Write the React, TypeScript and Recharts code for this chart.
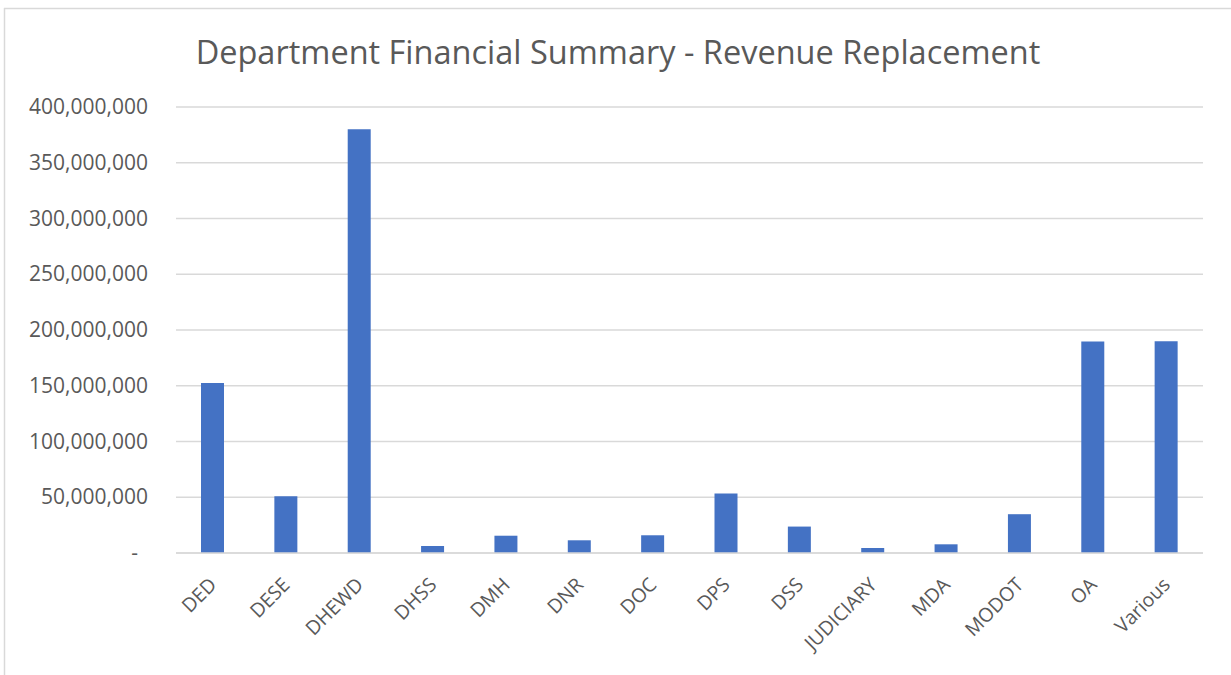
import React from "react";
import { BarChart, Bar, XAxis, YAxis, CartesianGrid } from "recharts";

const departments = ["DED", "DESE", "DHEWD", "DHSS", "DMH", "DNR", "DOC", "DPS", "DSS", "JUDICIARY", "MDA", "MODOT", "OA", "Various"];
const revenueReplacement = [152500000, 50800000, 380000000, 6300000, 15500000, 11400000, 15900000, 53400000, 23700000, 4500000, 7800000, 34800000, 189600000, 190000000];
const yTicks = [0, 50000000, 100000000, 150000000, 200000000, 250000000, 300000000, 350000000, 400000000];
const chartTitle = "Department Financial Summary - Revenue Replacement";

const data = departments.map((d, i) => ({ name: d, value: revenueReplacement[i] }));

const FONT = "'Open Sans', sans-serif";
const TEXT = "#595959";
const GRID = "#d9d9d9";

const YTick = (props: any) => {
  const { x, y, payload } = props;
  const v = payload.value as number;
  if (v === 0) {
    return (
      <text x={x - 30} y={y} dy={7} textAnchor="end" fill={TEXT} fontSize={21} fontFamily={FONT}>
        -
      </text>
    );
  }
  return (
    <text x={x - 20} y={y} dy={7} textAnchor="end" fill={TEXT} fontSize={21} fontFamily={FONT}>
      {v.toLocaleString("en-US")}
    </text>
  );
};

const XTick = (props: any) => {
  const { x, y, payload } = props;
  const ax = x + 5;
  const ay = y + 25;
  return (
    <text x={ax} y={ay} textAnchor="end" fill={TEXT} fontSize={19.5} fontFamily={FONT} transform={`rotate(-45, ${ax}, ${ay})`}>
      {payload.value}
    </text>
  );
};

export default function App() {
  return (
    <div style={{ position: "fixed", left: 0, top: 0, width: 1231, height: 675, overflow: "hidden", background: "#fff" }}>
      <svg width={1231} height={675} style={{ position: "absolute", left: 0, top: 0 }}>
        <line x1={4.5} y1={8} x2={4.5} y2={675} stroke={GRID} strokeWidth={1.5} />
        <line x1={4} y1={8.5} x2={1231} y2={8.5} stroke={GRID} strokeWidth={1.5} />
        <text x={618} y={64} textAnchor="middle" fill={TEXT} fontSize={32.5} fontFamily={FONT}>
          {chartTitle}
        </text>
      </svg>
      <div style={{ position: "absolute", left: 0, top: 0 }}>
        <BarChart width={1231} height={675} data={data} margin={{ top: 107, right: 28, bottom: 0, left: 0 }} barCategoryGap={0}>
          <CartesianGrid vertical={false} stroke={GRID} strokeWidth={1.5} />
          <XAxis
            dataKey="name"
            height={122}
            interval={0}
            tickLine={false}
            axisLine={{ stroke: GRID, strokeWidth: 1.5 }}
            tick={<XTick />}
          />
          <YAxis
            width={176}
            domain={[0, 400000000]}
            ticks={yTicks}
            interval={0}
            tickLine={false}
            axisLine={false}
            tick={<YTick />}
          />
          <Bar dataKey="value" fill="#4472C4" barSize={23} isAnimationActive={false} />
        </BarChart>
      </div>
    </div>
  );
}
